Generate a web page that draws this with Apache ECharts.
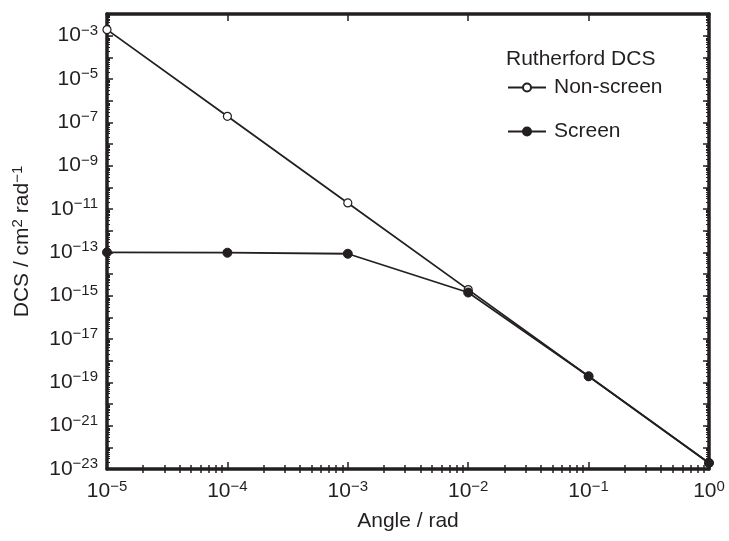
<!DOCTYPE html>
<html>
<head>
<meta charset="utf-8">
<script src="https://cdn.jsdelivr.net/npm/echarts@6/dist/echarts.min.js"></script>
<style>
html,body{margin:0;padding:0;background:#fff;}
#chart{width:729px;height:541px;}
</style>
</head>
<body>
<div id="chart"></div>
<script>
// ---- data ----
var angles = [1e-5, 1e-4, 1e-3, 1e-2, 1e-1, 1];
var nonScreen = [1.9e-3, 1.9e-7, 1.9e-11, 1.9e-15, 1.9e-19, 1.9e-23];
var screen = [1.0e-13, 9.6e-14, 8.6e-14, 1.4e-15, 1.9e-19, 1.9e-23];
var seriesNames = ['Non-screen', 'Screen'];
var legendTitle = 'Rutherford DCS';
var xName = 'Angle / rad';
var xMin = 1e-5, xMax = 1;
var yMin = 1e-23, yMax = 1e-2;
var yLabelExps = [-23, -21, -19, -17, -15, -13, -11, -9, -7, -5, -3];

// ---- helpers ----
var INK = '#231f20';
var FONT = '"Liberation Sans", Arial, Helvetica, sans-serif';
var FS = 21, SUP = 15;
function minorVals(lo, hi) {
  var out = [];
  for (var e = lo; e < hi; e++) {
    for (var m = 2; m <= 9; m++) out.push(m * Math.pow(10, e));
  }
  return out;
}
function decadeVals(lo, hi) {
  var out = [];
  for (var e = lo; e <= hi; e++) out.push(Math.pow(10, e));
  return out;
}
function expOf(v) { return Math.round(Math.log10(v)); }
function powLabel(v) {
  var n = expOf(v);
  var s = n < 0 ? '\u2212' + (-n) : '' + n;
  return '{b|10}{s|' + s + '}';
}
var rich = {
  b: { fontSize: FS, fontFamily: FONT, color: INK },
  s: { fontSize: SUP, fontFamily: FONT, color: INK, padding: [0, 0, 10, 0] }
};

function baseAxis(pos, min, max, extra) {
  var a = {
    type: 'log', logBase: 10, position: pos, min: min, max: max,
    gridIndex: 0,
    splitLine: { show: false },
    axisLine: { show: false },
    axisTick: { show: false },
    axisLabel: { show: false }
  };
  for (var k in extra) a[k] = extra[k];
  return a;
}

var xDecades = decadeVals(-5, 0), xMinors = minorVals(-5, 0);
var yDecades = decadeVals(-23, -2), yMinors = minorVals(-23, -2);

var xAxes = [
  baseAxis('bottom', xMin, xMax, {
    axisLine: { show: true, onZero: false, lineStyle: { color: INK, width: 3.5 } },
    axisTick: { show: true, inside: true, length: 7, customValues: xDecades, lineStyle: { color: INK, width: 1.5 } },
    axisLabel: { show: true, margin: 10, customValues: xDecades, formatter: powLabel, rich: rich },
    name: xName, nameLocation: 'middle', nameGap: 42,
    nameTextStyle: { fontSize: FS, fontFamily: FONT, color: INK }
  }),
  baseAxis('bottom', xMin, xMax, {
    axisTick: { show: true, inside: true, length: 4, customValues: xMinors, lineStyle: { color: INK, width: 1.5 } }
  }),
  baseAxis('top', xMin, xMax, {
    axisLine: { show: true, onZero: false, lineStyle: { color: INK, width: 3.5 } },
    axisTick: { show: true, inside: true, length: 7, customValues: xDecades, lineStyle: { color: INK, width: 1.5 } }
  }),
  baseAxis('top', xMin, xMax, {
    axisTick: { show: true, inside: true, length: 4, customValues: xMinors, lineStyle: { color: INK, width: 1.5 } }
  })
];

var yAxes = [
  baseAxis('left', yMin, yMax, {
    axisLine: { show: true, onZero: false, lineStyle: { color: INK, width: 3.5 } },
    axisTick: { show: true, inside: true, length: 6, customValues: yDecades, lineStyle: { color: INK, width: 1.5 } },
    axisLabel: { show: true, margin: 9, customValues: yLabelExps.map(function (e) { return Math.pow(10, e); }), formatter: powLabel, rich: rich },
    name: '{t|DCS / cm}{u|2}{t| rad}{u|\u22121}', nameLocation: 'middle', nameGap: 72, nameRotate: 90,
    nameTextStyle: {
      rich: {
        t: { fontSize: FS, fontFamily: FONT, color: INK },
        u: { fontSize: SUP, fontFamily: FONT, color: INK, padding: [0, 0, 10, 0] }
      }
    }
  }),
  baseAxis('left', yMin, yMax, {
    axisTick: { show: true, inside: true, length: 3, customValues: yMinors, lineStyle: { color: INK, width: 1 } }
  }),
  baseAxis('right', yMin, yMax, {
    axisLine: { show: true, onZero: false, lineStyle: { color: INK, width: 3.5 } },
    axisTick: { show: true, inside: true, length: 6, customValues: yDecades, lineStyle: { color: INK, width: 1.5 } }
  }),
  baseAxis('right', yMin, yMax, {
    axisTick: { show: true, inside: true, length: 3, customValues: yMinors, lineStyle: { color: INK, width: 1 } }
  })
];

function pairs(ys) { return angles.map(function (x, i) { return [x, ys[i]]; }); }

var option = {
  backgroundColor: '#fff',
  animation: false,
  textStyle: { fontFamily: FONT },
  grid: { left: 107, right: 20, top: 14, bottom: 72, containLabel: false },
  title: {
    text: legendTitle, left: 501, top: 44,
    textStyle: { fontSize: FS, fontWeight: 'normal', fontFamily: FONT, color: INK }
  },
  legend: {
    data: seriesNames, orient: 'vertical', left: 502, top: 72,
    itemWidth: 38, itemHeight: 10, itemGap: 23,
    textStyle: { fontSize: FS, fontFamily: FONT, color: INK, padding: [0, 0, 0, 3] },
    inactiveColor: INK
  },
  xAxis: xAxes,
  yAxis: yAxes,
  series: [
    {
      name: seriesNames[0], type: 'line', xAxisIndex: 0, yAxisIndex: 0,
      data: pairs(nonScreen), clip: false,
      symbol: 'circle', symbolSize: 8, z: 3,
      lineStyle: { color: INK, width: 1.8 },
      itemStyle: { color: '#fff', borderColor: INK, borderWidth: 1.2 }
    },
    {
      name: seriesNames[1], type: 'line', xAxisIndex: 0, yAxisIndex: 0,
      data: pairs(screen), clip: false,
      symbol: 'circle', symbolSize: 9, z: 4,
      lineStyle: { color: INK, width: 1.8 },
      itemStyle: { color: INK, borderColor: INK, borderWidth: 1 }
    }
  ]
};

var chart = echarts.init(document.getElementById('chart'), null, { renderer: 'canvas' });
chart.setOption(option);
</script>
</body>
</html>
